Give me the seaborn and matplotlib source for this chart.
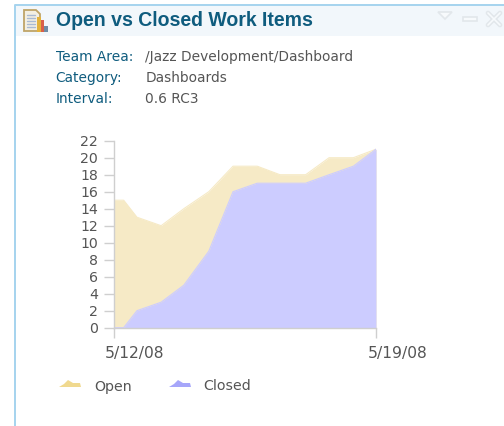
# -*- coding: utf-8 -*-
"""
Open vs Closed work items dashboard widget, area chart.
"""

import matplotlib
matplotlib.use('Agg')
import pandas as pd
import matplotlib.pyplot as plt
import seaborn as sns
from matplotlib.patches import Polygon, Rectangle
from matplotlib.transforms import ScaledTranslation

# hours since 5/12/08
hours = [0, 6.5, 15, 30.5, 45, 61, 76.5, 92, 106.5, 123, 138, 153.5, 168]
open_items = [15, 15, 13, 12, 14, 16, 19, 19, 18, 18, 20, 20, 21]
closed_items = [0, 0, 2, 3, 5, 9, 16, 17, 17, 17, 18, 19, 21]
y_ticks = [0, 2, 4, 6, 8, 10, 12, 14, 16, 18, 20, 22]
x_ticks = [0, 168]
x_tick_labels = ['5/12/08', '5/19/08']
info_labels = ['Team Area:', 'Category:', 'Interval:']
info_values = ['/Jazz Development/Dashboard', 'Dashboards', '0.6 RC3']

OPEN_FILL = '#F6EAC6'
CLOSED_FILL = '#CCCCFF'
TEAL = '#0F5C7E'
GREY = '#555555'
AXIS = '#CFCFCF'
W, H = 504, 426

sns.set_theme(style='white')
plt.rcParams['font.family'] = ['DejaVu Sans']

fig = plt.figure(figsize=(W / 100, H / 100), dpi=100, facecolor='white')

# pixel-space layer for the widget frame, header and legend
bg = fig.add_axes([0, 0, 1, 1], zorder=0)
bg.set_xlim(0, W)
bg.set_ylim(H, 0)
bg.axis('off')

bg.add_patch(Rectangle((16, 6), W - 16, 30, color='#F2F7FB', lw=0))
bg.plot([15, 15, W], [H, 5, 5], color='#A5D3EE', lw=1.4, solid_capstyle='butt')

# report icon
bg.add_patch(Polygon([(24, 10), (36, 10), (40, 14), (40, 31), (24, 31)], fc='#F3EFE2', ec='#BFA468', lw=1.3))
for yy in (15, 18, 21, 24, 27):
    bg.plot([27, 35], [yy, yy], color='#A9BAD3', lw=1)
bg.add_patch(Rectangle((36.5, 17), 4, 15, color='#E3B23C', lw=0))
bg.add_patch(Rectangle((40.5, 20), 3.5, 12, color='#D9604A', lw=0))
bg.add_patch(Rectangle((44, 26), 3.5, 6, color='#6F8CA6', lw=0))

# window controls
ctl = '#E2E7EB'
bg.add_patch(Polygon([(438, 12), (452, 12), (445, 19)], fc='#F7FAFC', ec=ctl, lw=1.2))
bg.add_patch(Rectangle((463, 16.5), 14, 4, fc='#F7FAFC', ec=ctl, lw=1.2))
bg.plot([488, 500], [13, 25], color=ctl, lw=3.4)
bg.plot([488, 500], [25, 13], color=ctl, lw=3.4)
bg.plot([488, 500], [13, 25], color='#F7FAFC', lw=1.2)
bg.plot([488, 500], [25, 13], color='#F7FAFC', lw=1.2)

bg.text(56, 21, 'Open vs Closed Work Items', color=TEAL, fontsize=14.05, fontweight='bold',
        va='center', family=['Liberation Sans'])
for yy, lab, val, vx in zip([57, 78, 99], info_labels, info_values, [145, 146, 145]):
    bg.text(55.5, yy, lab, color=TEAL, fontsize=9.9, va='center')
    bg.text(vx, yy, val, color=GREY, fontsize=9.9, va='center')

# legend
for x0, col, name, tx in [(59, '#F0D98F', 'Open', 94), (169, '#A6A6FA', 'Closed', 203)]:
    bg.add_patch(Polygon([(x0, 387), (x0 + 5, 384), (x0 + 9, 380), (x0 + 14, 383),
                          (x0 + 21, 383), (x0 + 22, 387)], color=col, lw=0))
    bg.text(tx, 386.5, name, color=GREY, fontsize=10.2, va='center')

# chart
ax = fig.add_axes([113.5 / W, 1 - 327.7 / H, 262.5 / W, 187 / H], zorder=1)
ax.patch.set_alpha(0)
df = pd.DataFrame({'hours': hours, 'Open': open_items, 'Closed': closed_items})

ax.fill_between(df['hours'], df['Open'], color=OPEN_FILL, lw=0)
ax.fill_between(df['hours'], df['Closed'], color=CLOSED_FILL, lw=0)
sns.lineplot(data=df, x='hours', y='Open', color=OPEN_FILL, lw=0.8, ax=ax, legend=False, errorbar=None)
sns.lineplot(data=df, x='hours', y='Closed', color=CLOSED_FILL, lw=0.8, ax=ax, legend=False, errorbar=None)

ax.set_xlim(0, 168)
ax.set_ylim(0, 22)
ax.set_xlabel('')
ax.set_ylabel('')
ax.set_yticks(y_ticks)
ax.set_xticks(x_ticks)
ax.set_xticklabels(x_tick_labels)
ax.tick_params(axis='y', length=7, width=1, color=AXIS, labelcolor=GREY, labelsize=10.2, pad=4, left=True)
ax.tick_params(axis='x', length=7, width=1, color=AXIS, labelcolor=GREY, labelsize=11.2, pad=6, bottom=True)
# date labels start just left of their tick in the original
nudge = ScaledTranslation(-8.5 / 100, 0, fig.dpi_scale_trans)
for lab in ax.get_xticklabels():
    lab.set_ha('left')
    lab.set_transform(lab.get_transform() + nudge)
sns.despine(ax=ax)
for side in ('left', 'bottom'):
    ax.spines[side].set_color(AXIS)
    ax.spines[side].set_linewidth(1)

fig.savefig('out.png', dpi=100)
plt.close(fig)
